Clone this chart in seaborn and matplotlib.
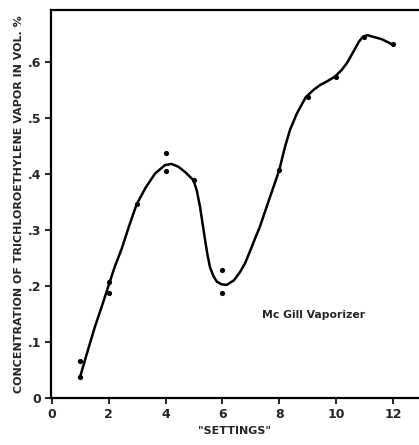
import matplotlib
matplotlib.use("Agg")
import matplotlib.pyplot as plt
import pandas as pd
import seaborn as sns

# measured points (setting, concentration vol. %)
settings = [1, 1, 2, 2, 3, 4, 4, 5, 6, 6, 8, 9, 10, 11, 12]
concentration = [0.066, 0.038, 0.207, 0.187, 0.346, 0.437, 0.406, 0.389,
                 0.229, 0.187, 0.407, 0.537, 0.574, 0.645, 0.633]

# hand-drawn fitted curve
curve_x = [0.99, 1.25, 1.51, 1.75, 1.98, 2.2, 2.45, 2.7, 2.98, 3.3, 3.63,
           3.98, 4.21, 4.45, 4.7, 4.98, 5.1, 5.21, 5.3, 5.39, 5.47, 5.56,
           5.68, 5.80, 5.97, 6.15, 6.4, 6.62, 6.8, 6.97, 7.15, 7.32, 7.5,
           7.75, 8.0, 8.2, 8.38, 8.62, 8.93, 9.2, 9.44, 9.7, 9.96, 10.2,
           10.38, 10.55, 10.67, 10.8, 10.94, 11.1, 11.31, 11.6, 11.96]
curve_y = [0.038, 0.083, 0.127, 0.163, 0.199, 0.233, 0.266, 0.305, 0.346,
           0.376, 0.401, 0.416, 0.418, 0.413, 0.403, 0.389, 0.370, 0.342,
           0.312, 0.282, 0.257, 0.234, 0.218, 0.208, 0.203, 0.202, 0.210,
           0.225, 0.241, 0.262, 0.285, 0.306, 0.333, 0.370, 0.407, 0.448,
           0.479, 0.508, 0.537, 0.550, 0.559, 0.566, 0.574, 0.586, 0.598,
           0.613, 0.624, 0.636, 0.645, 0.648, 0.645, 0.641, 0.632]

x_ticks = [0, 2, 4, 6, 8, 10, 12]
y_ticks = [0, 0.1, 0.2, 0.3, 0.4, 0.5, 0.6]
y_tick_labels = ["0", ".1", ".2", ".3", ".4", ".5", ".6"]

sns.set_theme(style="ticks")
plt.rcParams["font.family"] = ["DejaVu Sans"]

fig = plt.figure(figsize=(4.19, 4.45), dpi=100)
ax = fig.add_axes([0.1217, 0.1056, 0.8783, 0.872])

pts = pd.DataFrame({"setting": settings, "conc": concentration})
fit = pd.DataFrame({"setting": curve_x, "conc": curve_y})

sns.lineplot(data=fit, x="setting", y="conc", color="black", linewidth=1.8,
             sort=False, estimator=None, ax=ax)
sns.scatterplot(data=pts, x="setting", y="conc", color="black", s=14,
                edgecolor="black", linewidth=0, ax=ax, zorder=3)

ax.set_xlim(-0.035, 12.92)
ax.set_ylim(0, 0.693)
ax.set_xticks(x_ticks)
ax.set_xticklabels([str(t) for t in x_ticks], fontsize=9, fontweight="bold")
ax.set_yticks(y_ticks)
ax.set_yticklabels(y_tick_labels, fontsize=9, fontweight="bold")
ax.tick_params(direction="out", length=4, width=1.2, color="black", pad=3)

for side in ["left", "bottom", "top"]:
    ax.spines[side].set_linewidth(1.6)
    ax.spines[side].set_color("black")
ax.spines["right"].set_visible(False)

ax.set_xlabel('"SETTINGS"', fontsize=8, fontweight="bold", labelpad=4)
ax.set_ylabel("CONCENTRATION OF TRICHLOROETHYLENE VAPOR IN VOL. %",
              fontsize=8, fontweight="bold", labelpad=3)

ax.text(7.4, 0.148, "Mc Gill Vaporizer", fontsize=7.8, fontweight="semibold",
        ha="left", va="center")

fig.savefig("out.png", dpi=100)
